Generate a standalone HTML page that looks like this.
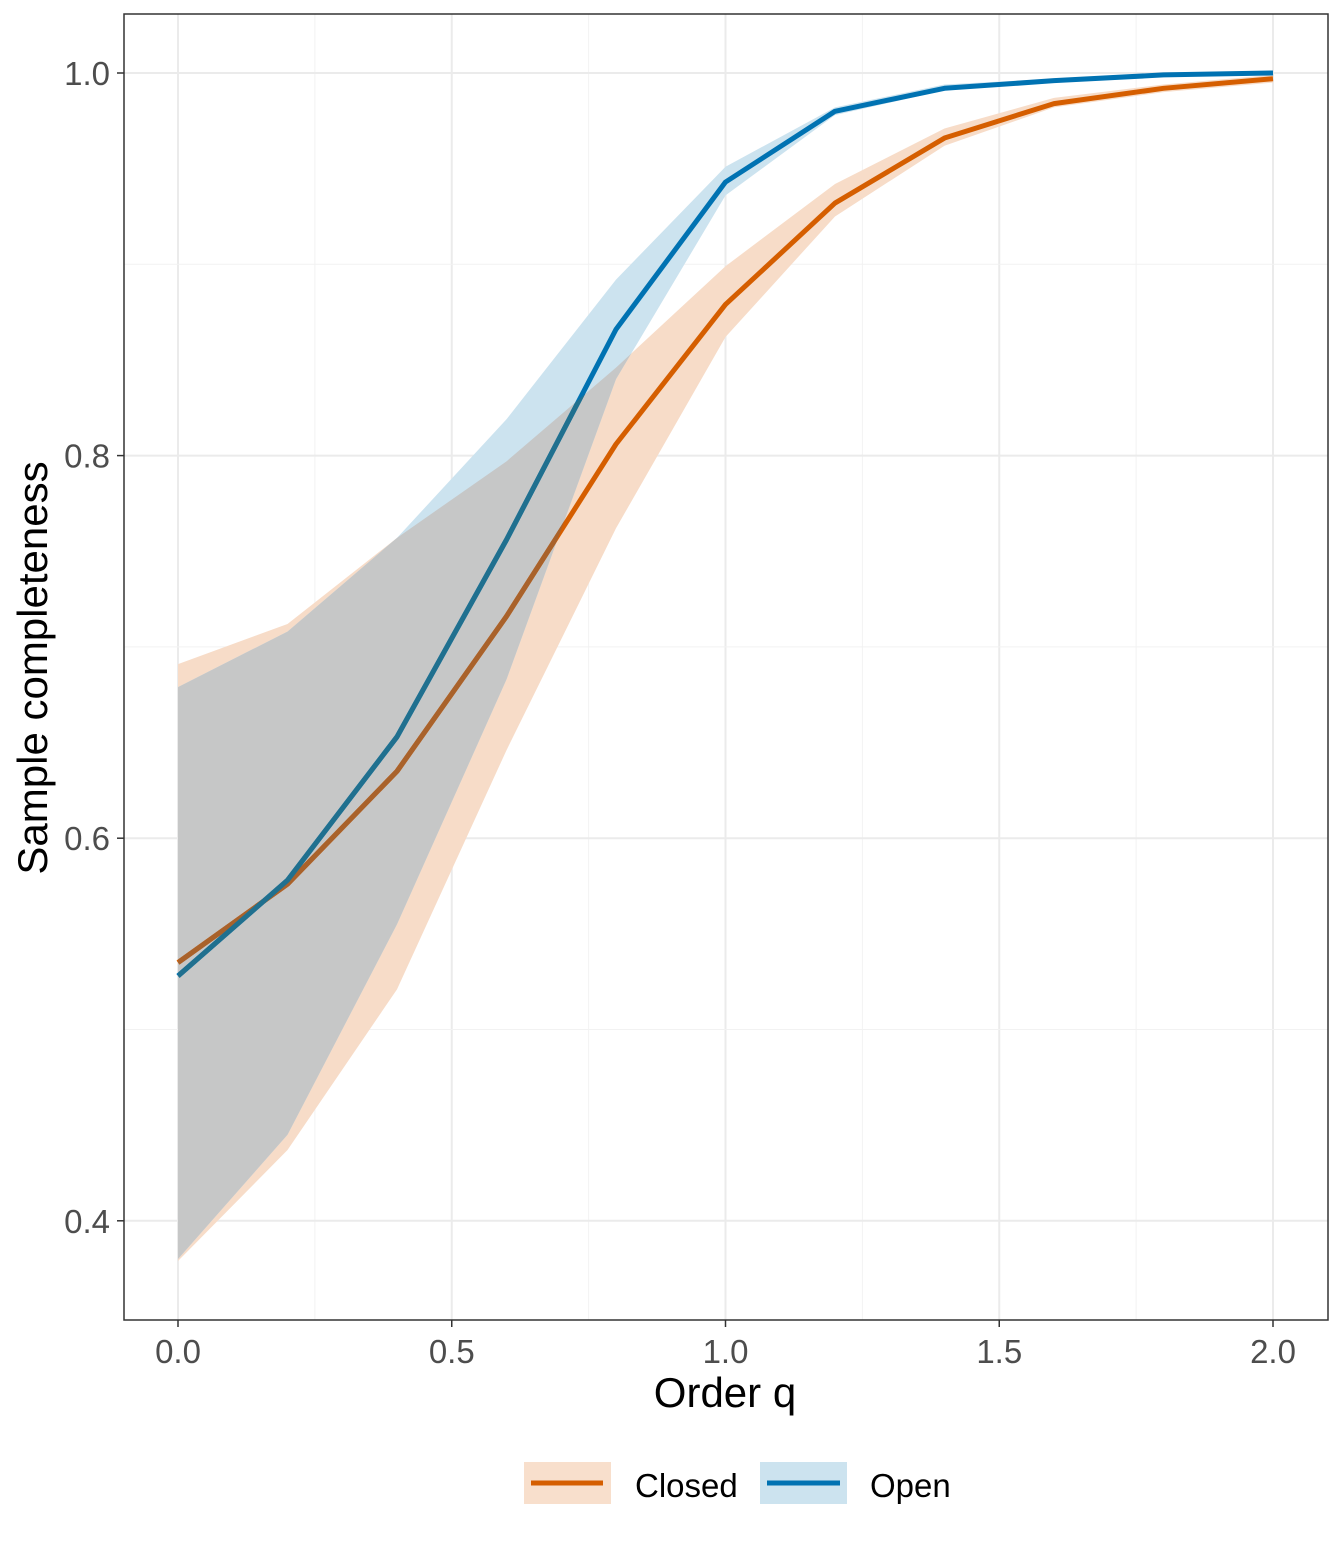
<!DOCTYPE html>
<html><head><meta charset="utf-8"><style>
body{margin:0;background:#fff;}
svg text{font-family:"Liberation Sans",sans-serif;}
</style></head><body>
<svg id="chart" width="1344" height="1536">
<defs><clipPath id="closedClip"><polygon id="closedClipPoly" points=""/></clipPath></defs>
<rect x="0" y="0" width="1344" height="1536" fill="#fff"/>
<g id="grid"></g>
<g id="ribbons"></g>
<g id="lines"></g>
<rect x="124" y="14" width="1204" height="1306" fill="none" stroke="#333" stroke-width="1.5"/>
<g id="ticks"></g>
<text x="725" y="1407" font-size="42" text-anchor="middle" fill="#000">Order q</text>
<text transform="translate(47,668) rotate(-90)" font-size="42" text-anchor="middle" fill="#000">Sample completeness</text>
<g>
<g>
<rect x="524" y="1462" width="87" height="42" fill="#f8dfcc"/>
<line x1="531" y1="1483" x2="603" y2="1483" stroke="#d55e00" stroke-width="5"/>
<text x="635" y="1497" font-size="33" fill="#000">Closed</text></g>
<g>
<rect x="760" y="1462" width="87" height="42" fill="#cce3ef"/>
<line x1="767" y1="1483" x2="840" y2="1483" stroke="#0072b2" stroke-width="5"/>
<text x="870" y="1497" font-size="33" fill="#000">Open</text></g>
</g>
</svg>
<script>
const qValues=[0,0.2,0.4,0.6,0.8,1.0,1.2,1.4,1.6,1.8,2.0];
const closedMean=[0.535,0.576,0.635,0.716,0.806,0.879,0.932,0.966,0.984,0.992,0.997];
const closedLower=[0.379,0.437,0.521,0.646,0.762,0.862,0.925,0.962,0.982,0.990,0.995];
const closedUpper=[0.691,0.712,0.757,0.797,0.846,0.899,0.942,0.971,0.987,0.994,0.999];
const openMean=[0.528,0.578,0.653,0.756,0.866,0.943,0.980,0.992,0.996,0.999,1.0];
const openLower=[0.380,0.445,0.555,0.683,0.840,0.936,0.978,0.991,0.995,0.998,0.999];
const openUpper=[0.679,0.708,0.757,0.819,0.892,0.951,0.982,0.994,0.997,1.0,1.001];
const xTicks=[0,0.5,1.0,1.5,2.0];
const xTickLabels=["0.0","0.5","1.0","1.5","2.0"];
const yTicks=[0.4,0.6,0.8,1.0];
const yTickLabels=["0.4","0.6","0.8","1.0"];
const NS="http://www.w3.org/2000/svg";
const X=v=>178+v*547.5;
const Y=v=>73+(1-v)*1913;
function mk(tag,attrs,parent){const e=document.createElementNS(NS,tag);for(const k in attrs)e.setAttribute(k,attrs[k]);parent.appendChild(e);return e;}
const grid=document.getElementById('grid'),ticks=document.getElementById('ticks');
xTicks.forEach((t,i)=>{
  let g=mk('line',{x1:X(t),x2:X(t),y1:14,y2:1320,stroke:'#ebebeb','stroke-width':2},grid);
  
  
  if(i<xTicks.length-1){let m=mk('line',{x1:X(t+0.25),x2:X(t+0.25),y1:14,y2:1320,stroke:'#f2f2f2','stroke-width':1},grid);
  
  }
  let tk=mk('line',{x1:X(t),x2:X(t),y1:1320,y2:1327,stroke:'#333','stroke-width':1.5},ticks);
  
  
  let tx=mk('text',{x:X(t),y:1363,'font-size':33,'text-anchor':'middle',fill:'#4d4d4d'},ticks);
  tx.textContent=xTickLabels[i];
  
  
});
yTicks.forEach((t,i)=>{
  let g=mk('line',{x1:124,x2:1328,y1:Y(t),y2:Y(t),stroke:'#ebebeb','stroke-width':2},grid);
  
  
  if(i<yTicks.length-1){let m=mk('line',{x1:124,x2:1328,y1:Y(t+0.1),y2:Y(t+0.1),stroke:'#f2f2f2','stroke-width':1},grid);
  
  }
  let tk=mk('line',{x1:117,x2:124,y1:Y(t),y2:Y(t),stroke:'#333','stroke-width':1.5},ticks);
  
  
  let tx=mk('text',{x:110,y:Y(t)+12,'font-size':33,'text-anchor':'end',fill:'#4d4d4d'},ticks);
  tx.textContent=yTickLabels[i];
  
  
});
function ribbonPts(lo,hi){
  return qValues.map((q,i)=>X(q)+','+Y(hi[i])).concat(qValues.map((q,i)=>X(q)+','+Y(lo[i])).reverse()).join(' ');
}
const rib=document.getElementById('ribbons');
const cPts=ribbonPts(closedLower,closedUpper), oPts=ribbonPts(openLower,openUpper);
document.getElementById('closedClipPoly').setAttribute('points',cPts);
let r1=mk('polygon',{points:cPts,fill:'#f7dcc8'},rib);


let r2=mk('polygon',{points:oPts,fill:'#cce3ef'},rib);


let r3=mk('polygon',{points:oPts,fill:'#c6c7c7','clip-path':'url(#closedClip)'},rib);


const lg=document.getElementById('lines');
function line(vals,color,name){
  const p=mk('polyline',{points:qValues.map((q,i)=>X(q)+','+Y(vals[i])).join(' '),fill:'none',stroke:color,'stroke-width':5,'stroke-linejoin':'round'},lg);
  
  
}
line(closedMean,'#d55e00','closed-line');
line(openMean,'#0072b2','open-line');
const oc=document.createElementNS(NS,'clipPath');oc.setAttribute('id','openClip');
mk('polygon',{points:oPts},oc);document.querySelector('defs').appendChild(oc);
const ov=mk('g',{'clip-path':'url(#closedClip)'},lg);


const ov2=mk('g',{'clip-path':'url(#openClip)'},ov);


[[closedMean,'#a9622b','closed-line-overlap'],[openMean,'#20708f','open-line-overlap']].forEach(([v,c,n])=>{
  const p=mk('polyline',{points:qValues.map((q,i)=>X(q)+','+Y(v[i])).join(' '),fill:'none',stroke:c,'stroke-width':5,'stroke-linejoin':'round'},ov2);
  
  
});
</script>
</body></html>
